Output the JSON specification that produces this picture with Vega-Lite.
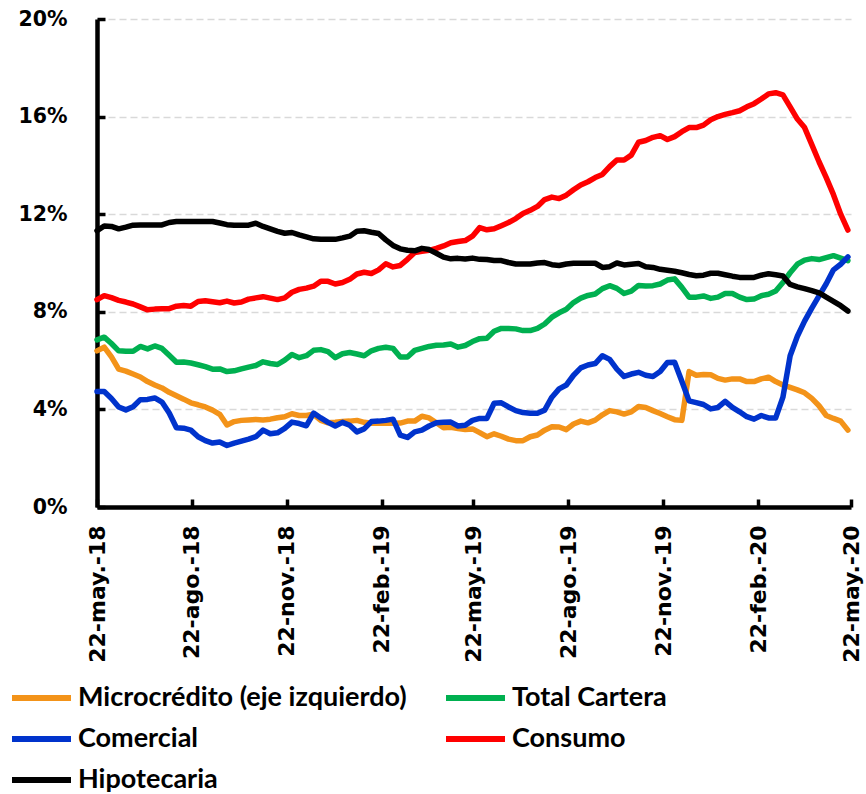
{
 "$schema": "https://vega.github.io/schema/vega-lite/v6.json",
 "width": 754, "height": 488,
 "autosize": {"type": "none"},
 "padding": {"left": 97, "top": 19, "right": 15, "bottom": 287},
 "background": "white",
 "config": {"view": {"stroke": null}},
 "data": {"values": [
{"d":"2018-05-22","m":6.4,"t":6.85,"c":4.73,"o":8.5,"h":11.32},
{"d":"2018-05-29","m":6.55,"t":6.96,"c":4.73,"o":8.66,"h":11.52},
{"d":"2018-06-05","m":6.15,"t":6.7,"c":4.45,"o":8.58,"h":11.5},
{"d":"2018-06-12","m":5.65,"t":6.4,"c":4.1,"o":8.47,"h":11.4},
{"d":"2018-06-19","m":5.57,"t":6.38,"c":3.98,"o":8.4,"h":11.47},
{"d":"2018-06-26","m":5.45,"t":6.38,"c":4.11,"o":8.32,"h":11.55},
{"d":"2018-07-03","m":5.33,"t":6.58,"c":4.4,"o":8.2,"h":11.56},
{"d":"2018-07-10","m":5.14,"t":6.48,"c":4.41,"o":8.08,"h":11.56},
{"d":"2018-07-17","m":5.0,"t":6.6,"c":4.47,"o":8.11,"h":11.56},
{"d":"2018-07-24","m":4.88,"t":6.5,"c":4.3,"o":8.12,"h":11.56},
{"d":"2018-07-31","m":4.7,"t":6.22,"c":3.85,"o":8.13,"h":11.66},
{"d":"2018-08-07","m":4.56,"t":5.93,"c":3.25,"o":8.23,"h":11.7},
{"d":"2018-08-14","m":4.42,"t":5.94,"c":3.23,"o":8.26,"h":11.7},
{"d":"2018-08-21","m":4.27,"t":5.9,"c":3.15,"o":8.23,"h":11.7},
{"d":"2018-08-28","m":4.19,"t":5.83,"c":2.88,"o":8.42,"h":11.7},
{"d":"2018-09-04","m":4.1,"t":5.75,"c":2.72,"o":8.45,"h":11.7},
{"d":"2018-09-11","m":3.97,"t":5.65,"c":2.62,"o":8.41,"h":11.7},
{"d":"2018-09-18","m":3.8,"t":5.66,"c":2.66,"o":8.37,"h":11.64},
{"d":"2018-09-25","m":3.36,"t":5.55,"c":2.52,"o":8.44,"h":11.57},
{"d":"2018-10-02","m":3.5,"t":5.58,"c":2.62,"o":8.36,"h":11.55},
{"d":"2018-10-09","m":3.55,"t":5.66,"c":2.7,"o":8.4,"h":11.55},
{"d":"2018-10-16","m":3.57,"t":5.73,"c":2.78,"o":8.52,"h":11.55},
{"d":"2018-10-23","m":3.59,"t":5.8,"c":2.88,"o":8.57,"h":11.63},
{"d":"2018-10-30","m":3.57,"t":5.95,"c":3.15,"o":8.62,"h":11.5},
{"d":"2018-11-06","m":3.6,"t":5.88,"c":3.0,"o":8.56,"h":11.4},
{"d":"2018-11-13","m":3.66,"t":5.84,"c":3.04,"o":8.5,"h":11.3},
{"d":"2018-11-20","m":3.7,"t":6.02,"c":3.22,"o":8.57,"h":11.22},
{"d":"2018-11-27","m":3.82,"t":6.25,"c":3.48,"o":8.8,"h":11.25},
{"d":"2018-12-04","m":3.75,"t":6.12,"c":3.42,"o":8.92,"h":11.15},
{"d":"2018-12-11","m":3.75,"t":6.2,"c":3.33,"o":8.97,"h":11.07},
{"d":"2018-12-18","m":3.8,"t":6.42,"c":3.85,"o":9.05,"h":10.99},
{"d":"2018-12-25","m":3.55,"t":6.45,"c":3.65,"o":9.25,"h":10.97},
{"d":"2019-01-01","m":3.45,"t":6.37,"c":3.47,"o":9.25,"h":10.97},
{"d":"2019-01-08","m":3.47,"t":6.12,"c":3.32,"o":9.14,"h":10.97},
{"d":"2019-01-15","m":3.5,"t":6.28,"c":3.47,"o":9.2,"h":11.03},
{"d":"2019-01-22","m":3.52,"t":6.33,"c":3.35,"o":9.33,"h":11.1},
{"d":"2019-01-29","m":3.55,"t":6.27,"c":3.08,"o":9.55,"h":11.3},
{"d":"2019-02-05","m":3.47,"t":6.2,"c":3.2,"o":9.62,"h":11.32},
{"d":"2019-02-12","m":3.43,"t":6.4,"c":3.5,"o":9.57,"h":11.26},
{"d":"2019-02-19","m":3.43,"t":6.5,"c":3.52,"o":9.72,"h":11.21},
{"d":"2019-02-26","m":3.43,"t":6.55,"c":3.55,"o":9.97,"h":10.95},
{"d":"2019-03-05","m":3.43,"t":6.5,"c":3.6,"o":9.84,"h":10.72},
{"d":"2019-03-12","m":3.44,"t":6.15,"c":2.95,"o":9.9,"h":10.58},
{"d":"2019-03-19","m":3.52,"t":6.15,"c":2.85,"o":10.15,"h":10.52},
{"d":"2019-03-26","m":3.52,"t":6.42,"c":3.08,"o":10.43,"h":10.5},
{"d":"2019-04-02","m":3.72,"t":6.5,"c":3.15,"o":10.48,"h":10.6},
{"d":"2019-04-09","m":3.65,"t":6.58,"c":3.32,"o":10.52,"h":10.55},
{"d":"2019-04-16","m":3.45,"t":6.63,"c":3.45,"o":10.6,"h":10.4},
{"d":"2019-04-23","m":3.25,"t":6.64,"c":3.47,"o":10.7,"h":10.24},
{"d":"2019-04-30","m":3.27,"t":6.68,"c":3.48,"o":10.83,"h":10.17},
{"d":"2019-05-07","m":3.22,"t":6.55,"c":3.32,"o":10.88,"h":10.19},
{"d":"2019-05-14","m":3.18,"t":6.62,"c":3.35,"o":10.92,"h":10.16},
{"d":"2019-05-21","m":3.2,"t":6.78,"c":3.55,"o":11.1,"h":10.2},
{"d":"2019-05-28","m":3.05,"t":6.9,"c":3.63,"o":11.45,"h":10.15},
{"d":"2019-06-04","m":2.88,"t":6.92,"c":3.63,"o":11.36,"h":10.14},
{"d":"2019-06-11","m":3.0,"t":7.2,"c":4.25,"o":11.4,"h":10.1},
{"d":"2019-06-18","m":2.9,"t":7.32,"c":4.27,"o":11.53,"h":10.1},
{"d":"2019-06-25","m":2.78,"t":7.32,"c":4.1,"o":11.66,"h":10.02},
{"d":"2019-07-02","m":2.72,"t":7.3,"c":3.95,"o":11.82,"h":9.96},
{"d":"2019-07-09","m":2.72,"t":7.23,"c":3.87,"o":12.03,"h":9.96},
{"d":"2019-07-16","m":2.88,"t":7.23,"c":3.84,"o":12.16,"h":9.96},
{"d":"2019-07-23","m":2.95,"t":7.32,"c":3.84,"o":12.32,"h":10.0},
{"d":"2019-07-30","m":3.15,"t":7.5,"c":3.97,"o":12.6,"h":10.02},
{"d":"2019-08-06","m":3.29,"t":7.78,"c":4.5,"o":12.7,"h":9.93},
{"d":"2019-08-13","m":3.28,"t":7.96,"c":4.84,"o":12.64,"h":9.9},
{"d":"2019-08-20","m":3.17,"t":8.1,"c":5.0,"o":12.78,"h":9.96},
{"d":"2019-08-27","m":3.4,"t":8.38,"c":5.4,"o":13.0,"h":9.99},
{"d":"2019-09-03","m":3.52,"t":8.56,"c":5.7,"o":13.2,"h":9.99},
{"d":"2019-09-10","m":3.45,"t":8.67,"c":5.82,"o":13.33,"h":9.99},
{"d":"2019-09-17","m":3.56,"t":8.73,"c":5.88,"o":13.5,"h":9.99},
{"d":"2019-09-24","m":3.78,"t":8.95,"c":6.2,"o":13.63,"h":9.82},
{"d":"2019-10-01","m":3.95,"t":9.07,"c":6.05,"o":13.95,"h":9.85},
{"d":"2019-10-08","m":3.9,"t":8.96,"c":5.65,"o":14.22,"h":10.0},
{"d":"2019-10-15","m":3.81,"t":8.75,"c":5.35,"o":14.22,"h":9.92},
{"d":"2019-10-22","m":3.9,"t":8.85,"c":5.45,"o":14.42,"h":9.95},
{"d":"2019-10-29","m":4.12,"t":9.08,"c":5.52,"o":14.95,"h":9.98},
{"d":"2019-11-05","m":4.08,"t":9.06,"c":5.4,"o":15.02,"h":9.85},
{"d":"2019-11-12","m":3.95,"t":9.07,"c":5.35,"o":15.15,"h":9.82},
{"d":"2019-11-19","m":3.83,"t":9.14,"c":5.55,"o":15.22,"h":9.74},
{"d":"2019-11-26","m":3.7,"t":9.3,"c":5.92,"o":15.06,"h":9.7},
{"d":"2019-12-03","m":3.58,"t":9.35,"c":5.93,"o":15.18,"h":9.66},
{"d":"2019-12-10","m":3.55,"t":9.0,"c":5.15,"o":15.38,"h":9.6},
{"d":"2019-12-17","m":5.55,"t":8.6,"c":4.35,"o":15.55,"h":9.53},
{"d":"2019-12-24","m":5.4,"t":8.6,"c":4.28,"o":15.55,"h":9.48},
{"d":"2019-12-31","m":5.43,"t":8.65,"c":4.2,"o":15.65,"h":9.5},
{"d":"2020-01-07","m":5.42,"t":8.55,"c":4.02,"o":15.87,"h":9.58},
{"d":"2020-01-14","m":5.27,"t":8.6,"c":4.08,"o":16.0,"h":9.58},
{"d":"2020-01-21","m":5.2,"t":8.75,"c":4.33,"o":16.09,"h":9.52},
{"d":"2020-01-28","m":5.25,"t":8.75,"c":4.08,"o":16.16,"h":9.46},
{"d":"2020-02-04","m":5.25,"t":8.6,"c":3.9,"o":16.24,"h":9.41},
{"d":"2020-02-11","m":5.14,"t":8.5,"c":3.7,"o":16.4,"h":9.41},
{"d":"2020-02-18","m":5.14,"t":8.52,"c":3.6,"o":16.53,"h":9.41},
{"d":"2020-02-25","m":5.25,"t":8.66,"c":3.75,"o":16.72,"h":9.5},
{"d":"2020-03-03","m":5.32,"t":8.72,"c":3.65,"o":16.93,"h":9.56},
{"d":"2020-03-10","m":5.14,"t":8.85,"c":3.65,"o":16.98,"h":9.52},
{"d":"2020-03-17","m":5.0,"t":9.2,"c":4.5,"o":16.89,"h":9.47},
{"d":"2020-03-24","m":4.9,"t":9.6,"c":6.2,"o":16.4,"h":9.12},
{"d":"2020-03-31","m":4.8,"t":9.95,"c":7.0,"o":15.9,"h":9.02},
{"d":"2020-04-07","m":4.68,"t":10.12,"c":7.62,"o":15.55,"h":8.95},
{"d":"2020-04-14","m":4.45,"t":10.18,"c":8.15,"o":14.85,"h":8.87},
{"d":"2020-04-21","m":4.15,"t":10.14,"c":8.65,"o":14.15,"h":8.78},
{"d":"2020-04-28","m":3.75,"t":10.22,"c":9.15,"o":13.5,"h":8.6},
{"d":"2020-05-05","m":3.63,"t":10.3,"c":9.72,"o":12.8,"h":8.43},
{"d":"2020-05-12","m":3.52,"t":10.2,"c":9.95,"o":12.0,"h":8.25},
{"d":"2020-05-19","m":3.15,"t":10.1,"c":10.25,"o":11.35,"h":8.03}
 ]},
 "transform": [{"fold": ["m", "t", "c", "o", "h"], "as": ["s", "v"]}],
 "mark": {"type": "line", "strokeWidth": 5.5, "strokeCap": "round", "strokeJoin": "round"},
 "encoding": {
  "x": {
   "field": "d", "type": "temporal",
   "scale": {"type": "utc", "domain": [{"year": 2018, "month": 5, "date": 22, "utc": true}, {"year": 2020, "month": 5, "date": 22, "utc": true}]},
   "axis": {
    "title": null, "grid": false,
    "values": [
     {"year": 2018, "month": 5, "date": 22, "utc": true},
     {"year": 2018, "month": 8, "date": 22, "utc": true},
     {"year": 2018, "month": 11, "date": 22, "utc": true},
     {"year": 2019, "month": 2, "date": 22, "utc": true},
     {"year": 2019, "month": 5, "date": 22, "utc": true},
     {"year": 2019, "month": 8, "date": 22, "utc": true},
     {"year": 2019, "month": 11, "date": 22, "utc": true},
     {"year": 2020, "month": 2, "date": 22, "utc": true},
     {"year": 2020, "month": 5, "date": 22, "utc": true}
    ],
    "labelExpr": "utcdate(datum.value) + '-' + ['ene.','feb.','mar.','abr.','may.','jun.','jul.','ago.','sep.','oct.','nov.','dic.'][utcmonth(datum.value)] + '-' + utcFormat(datum.value, '%y')",
    "labelAngle": 270,
    "labelFont": "DejaVu Sans", "labelFontWeight": "bold", "labelFontSize": 22, "labelColor": "#000000",
    "labelPadding": 26, "labelOverlap": false, "labelBound": false, "labelFlush": false,
    "tickSize": -8, "tickWidth": 3.5, "tickColor": "#000000",
    "domainColor": "#000000", "domainWidth": 4.5
   }
  },
  "y": {
   "field": "v", "type": "quantitative",
   "scale": {"domain": [0, 20], "nice": false},
   "axis": {
    "title": null,
    "values": [0, 4, 8, 12, 16, 20],
    "labelExpr": "datum.value + '%'",
    "labelFont": "DejaVu Sans", "labelFontWeight": "bold", "labelFontSize": 20.5, "labelColor": "#000000",
    "labelPadding": 38,
    "tickSize": -8, "tickWidth": 3.5, "tickColor": "#000000",
    "domainColor": "#000000", "domainWidth": 4.5,
    "grid": true, "gridColor": "#D9D9D9", "gridDash": [7, 4], "gridWidth": 1.5
   }
  },
  "color": {
   "field": "s", "type": "nominal",
   "scale": {"domain": ["m", "t", "c", "o", "h"], "range": ["#F39319", "#00B050", "#0033CC", "#FF0000", "#000000"]},
   "legend": {
    "title": null, "orient": "none", "legendX": -88, "legendY": 664,
    "direction": "horizontal", "columns": 2, "padding": 0,
    "symbolType": "stroke", "symbolSize": 3481, "symbolStrokeWidth": 6,
    "clipHeight": 30,
    "labelFont": "Lato", "labelFontWeight": "bold", "labelFontSize": 27, "labelColor": "#000000",
    "labelOffset": 4, "columnPadding": 36, "rowPadding": 11, "labelLimit": 600,
    "labelExpr": "datum.label == 'm' ? 'Microcrédito (eje izquierdo)' : datum.label == 't' ? 'Total Cartera' : datum.label == 'c' ? 'Comercial' : datum.label == 'o' ? 'Consumo' : 'Hipotecaria'"
   }
  }
 }
}
